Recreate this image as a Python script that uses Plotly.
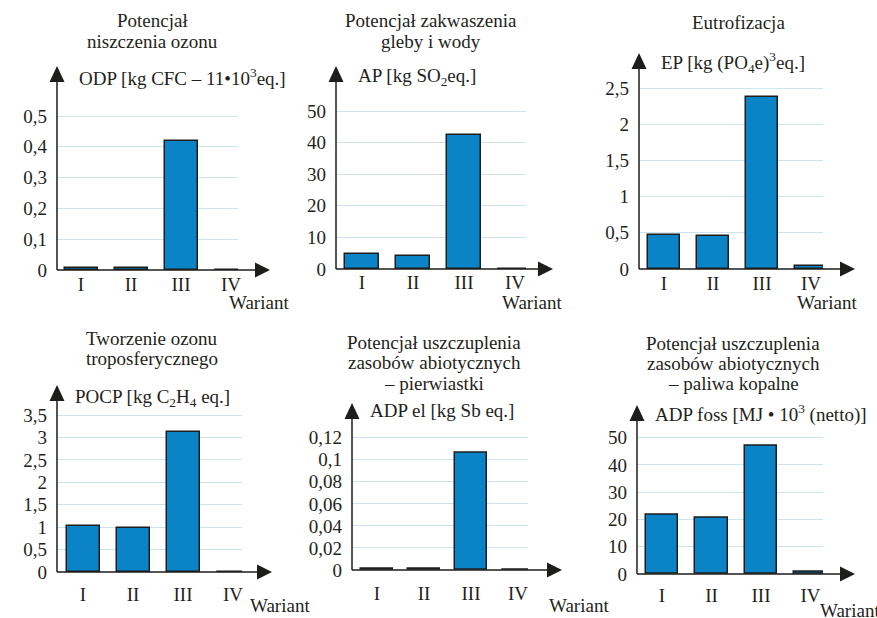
import plotly.graph_objects as go

W, H = 877, 618

categories = ["I", "II", "III", "IV"]

odp_values = [0.005, 0.005, 0.42, 0.0]
ap_values = [4.7, 4.2, 42.5, 0.0]
ep_values = [0.47, 0.45, 2.37, 0.045]
pocp_values = [1.02, 0.97, 3.13, 0.0]
adpel_values = [0.0012, 0.0012, 0.1066, 0.0]
adpfoss_values = [21.9, 20.8, 46.9, 1.0]

odp_ticks = [0, 0.1, 0.2, 0.3, 0.4, 0.5]
odp_ticktext = ["0", "0,1", "0,2", "0,3", "0,4", "0,5"]
ap_ticks = [0, 10, 20, 30, 40, 50]
ap_ticktext = ["0", "10", "20", "30", "40", "50"]
ep_ticks = [0, 0.5, 1, 1.5, 2, 2.5]
ep_ticktext = ["0", "0,5", "1", "1,5", "2", "2,5"]
pocp_ticks = [0, 0.5, 1, 1.5, 2, 2.5, 3, 3.5]
pocp_ticktext = ["0", "0,5", "1", "1,5", "2", "2,5", "3", "3,5"]
adpel_ticks = [0, 0.02, 0.04, 0.06, 0.08, 0.1, 0.12]
adpel_ticktext = ["0", "0,02", "0,04", "0,06", "0,08", "0,1", "0,12"]
adpfoss_ticks = [0, 10, 20, 30, 40, 50]
adpfoss_ticktext = ["0", "10", "20", "30", "40", "50"]

titles = [
    ["Potencjał", "niszczenia ozonu"],
    ["Potencjał zakwaszenia", "gleby i wody"],
    ["Eutrofizacja"],
    ["Tworzenie ozonu", "troposferycznego"],
    ["Potencjał uszczuplenia", "zasobów abiotycznych", "– pierwiastki"],
    ["Potencjał uszczuplenia", "zasobów abiotycznych", "– paliwa kopalne"],
]
unit_labels = [
    "ODP [kg CFC – 11•10<sup>3</sup>eq.]",
    "AP [kg SO<sub>2</sub>eq.]",
    "EP [kg (PO<sub>4</sub>e)<sup>3</sup>eq.]",
    "POCP [kg C<sub>2</sub>H<sub>4</sub> eq.]",
    "ADP el [kg Sb eq.]",
    "ADP foss [MJ • 10<sup>3</sup> (netto)]",
]
x_title = "Wariant"

series = [odp_values, ap_values, ep_values, pocp_values, adpel_values, adpfoss_values]
ticks = [odp_ticks, ap_ticks, ep_ticks, pocp_ticks, adpel_ticks, adpfoss_ticks]
ticktexts = [odp_ticktext, ap_ticktext, ep_ticktext, pocp_ticktext, adpel_ticktext, adpfoss_ticktext]

# layout geometry (pixels)
panels = [
    dict(x0=57, c0=81, sp=50, xg=238, y0=270, yt=116, ar=270, au=66,
         tx=152, ty=21, unit=(77, 77), war=(227, 302), xstand=1),
    dict(x0=336, c0=362, sp=51, xg=526, y0=269, yt=111, ar=553, au=66,
         tx=431, ty=21, unit=(356, 77), war=(500, 302), xstand=0),
    dict(x0=639, c0=664, sp=49, xg=823, y0=269, yt=88, ar=855, au=53,
         tx=738, ty=22, unit=(659, 63), war=(795, 302), xstand=1),
    dict(x0=57, c0=83, sp=50, xg=242, y0=572, yt=415, ar=272, au=385,
         tx=152, ty=338, unit=(73, 398), war=(248, 605), xstand=9),
    dict(x0=352, c0=377, sp=47, xg=528, y0=570, yt=437.7, ar=562, au=403,
         tx=434, ty=342, unit=(368, 410), war=(547, 605), xstand=10),
    dict(x0=637, c0=662, sp=49.5, xg=823, y0=574, yt=437.7, ar=855, au=405,
         tx=733, ty=343, unit=(653, 413), war=(818, 610), xstand=8),
]

FONT = "Liberation Serif"
TXT = "#231f20"
BAR = "#0a84c6"
GRID = "#cfe3ef"
FS = 19
LINE_STEP = 20.5


def px(x):
    return x / W


def py(y):
    return 1 - y / H


fig = go.Figure()
shapes = []
annotations = []

for i, p in enumerate(panels):
    n = i + 1
    xa = "x" if n == 1 else f"x{n}"
    ya = "y" if n == 1 else f"y{n}"
    vals = series[i]
    top_val = ticks[i][-1]
    scale = (p["y0"] - p["yt"]) / top_val
    ytop_px = p["yt"] - 4
    yrange_top = (p["y0"] - ytop_px) / scale
    xr0 = -(p["c0"] - p["x0"]) / p["sp"]
    xr1 = (p["xg"] - p["c0"]) / p["sp"]

    fig.add_trace(go.Bar(
        x=list(range(len(categories))), y=vals, xaxis=xa, yaxis=ya,
        marker=dict(color=BAR, line=dict(color="#1d1d1b", width=1.5)),
        width=0.66, showlegend=False, hoverinfo="skip",
    ))

    xkey = "xaxis" if n == 1 else f"xaxis{n}"
    ykey = "yaxis" if n == 1 else f"yaxis{n}"
    fig.update_layout(**{
        xkey: dict(
            domain=[px(p["x0"]), px(p["xg"])], range=[xr0, xr1], anchor=ya,
            tickmode="array", tickvals=list(range(len(categories))), ticktext=categories,
            showgrid=False, zeroline=False, showline=False, ticks="",
            ticklabelstandoff=p["xstand"], automargin=False,
            tickfont=dict(family=FONT, size=FS, color=TXT), fixedrange=True,
        ),
        ykey: dict(
            domain=[py(p["y0"]), py(ytop_px)], range=[0, yrange_top], anchor=xa,
            tickmode="array", tickvals=ticks[i], ticktext=ticktexts[i],
            showgrid=True, gridcolor=GRID, gridwidth=1, zeroline=False,
            showline=False, ticks="", ticklabelstandoff=9, automargin=False,
            tickfont=dict(family=FONT, size=FS, color=TXT), fixedrange=True,
        ),
    })

    shapes.append(dict(type="line", xref="paper", yref="paper",
                       x0=px(p["x0"]), x1=px(p["ar"] - 10), y0=py(p["y0"]), y1=py(p["y0"]),
                       line=dict(color="#1d1d1b", width=1.5)))
    shapes.append(dict(type="line", xref="paper", yref="paper",
                       x0=px(p["x0"]), x1=px(p["x0"]), y0=py(p["y0"]), y1=py(p["au"] + 10),
                       line=dict(color="#1d1d1b", width=1.5)))
    ax, ay = p["ar"], p["y0"]
    shapes.append(dict(type="path", xref="paper", yref="paper",
                       path=f"M {px(ax)} {py(ay)} L {px(ax-15)} {py(ay-7.5)} L {px(ax-15)} {py(ay+7.5)} Z",
                       fillcolor="#1d1d1b", line=dict(width=0)))
    ux, uy = p["x0"], p["au"]
    shapes.append(dict(type="path", xref="paper", yref="paper",
                       path=f"M {px(ux)} {py(uy)} L {px(ux-7.5)} {py(uy+16)} L {px(ux+7.5)} {py(uy+16)} Z",
                       fillcolor="#1d1d1b", line=dict(width=0)))

    for k, line in enumerate(titles[i]):
        annotations.append(dict(text=line, xref="paper", yref="paper",
                                x=px(p["tx"]), y=py(p["ty"] + k * LINE_STEP),
                                xanchor="center", yanchor="middle", showarrow=False,
                                font=dict(family=FONT, size=FS, color=TXT)))
    annotations.append(dict(text=unit_labels[i], xref="paper", yref="paper",
                            x=px(p["unit"][0]), y=py(p["unit"][1]),
                            xanchor="left", yanchor="middle", showarrow=False,
                            font=dict(family=FONT, size=FS, color=TXT)))
    annotations.append(dict(text=x_title, xref="paper", yref="paper",
                            x=px(p["war"][0]), y=py(p["war"][1]),
                            xanchor="left", yanchor="middle", showarrow=False,
                            font=dict(family=FONT, size=FS, color=TXT)))

fig.update_layout(
    width=W, height=H, margin=dict(l=0, r=0, t=0, b=0, autoexpand=False),
    paper_bgcolor="white", plot_bgcolor="white",
    shapes=shapes, annotations=annotations, bargap=0,
)

fig.write_html(
    "out.html",
    config={"displayModeBar": False},
    post_script="document.body.style.margin='0';document.body.style.overflow='hidden';",
)
